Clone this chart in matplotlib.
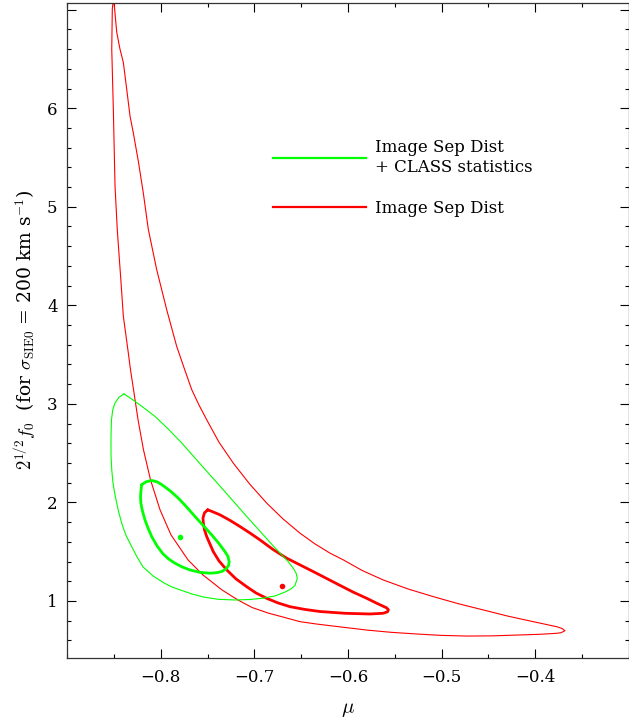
import matplotlib
matplotlib.use("Agg")
import matplotlib.pyplot as plt
from matplotlib.ticker import MultipleLocator

plt.rcParams["font.family"] = "DejaVu Serif"
plt.rcParams["mathtext.fontset"] = "cm"

# outer (thin) red contour: image separation distribution alone
red_outer_mu = [-0.8506, -0.8501, -0.8472, -0.8437, -0.8401, -0.8365, -0.8330, -0.8295,
                -0.8239, -0.8188, -0.8134, -0.8045, -0.7938, -0.7831, -0.7753, -0.7670,
                -0.7592, -0.7510, -0.7379, -0.7226, -0.7053, -0.6869, -0.6695, -0.6513,
                -0.6353, -0.6192, -0.6050, -0.5850, -0.5623, -0.5359, -0.5088, -0.4824,
                -0.4554, -0.4290, -0.4020, -0.3770, -0.3713, -0.3681,
                -0.3724, -0.3770, -0.3948, -0.4197, -0.4461, -0.4731, -0.5006, -0.5266,
                -0.5540, -0.5800, -0.6075, -0.6335, -0.6513, -0.6695, -0.6855, -0.7026,
                -0.7176, -0.7347, -0.7550, -0.7710, -0.7892, -0.8009, -0.8111, -0.8186,
                -0.8244, -0.8292, -0.8325, -0.8348, -0.8401, -0.8428, -0.8451, -0.8466,
                -0.8490, -0.8508, -0.8525, -0.8519, -0.8506]
red_outer_f = [7.128, 7.080, 6.772, 6.600, 6.464, 6.193, 5.922, 5.753,
               5.451, 5.143, 4.770, 4.364, 3.957, 3.584, 3.368, 3.144,
               2.987, 2.839, 2.611, 2.399, 2.189, 1.993, 1.833, 1.688,
               1.579, 1.485, 1.417, 1.310, 1.213, 1.122, 1.044, 0.973,
               0.909, 0.846, 0.790, 0.739, 0.721, 0.698,
               0.678, 0.672, 0.662, 0.654, 0.646, 0.644, 0.651, 0.665,
               0.682, 0.705, 0.736, 0.766, 0.790, 0.837, 0.878, 0.934,
               1.010, 1.112, 1.264, 1.417, 1.671, 1.925, 2.230, 2.535,
               2.839, 3.144, 3.348, 3.517, 3.889, 4.262, 4.567, 4.770,
               5.210, 5.990, 6.600, 7.006, 7.128]

# inner (thick) red contour
red_inner_mu = [-0.7499, -0.7534, -0.7550, -0.7546, -0.7534, -0.7510, -0.7440, -0.7379,
                -0.7296, -0.7197, -0.7083, -0.6983, -0.6869, -0.6748, -0.6620, -0.6460,
                -0.6299, -0.6032, -0.5765, -0.5626, -0.5578, -0.5568, -0.5589, -0.5693,
                -0.5800, -0.5947, -0.6085, -0.6230, -0.6371, -0.6513, -0.6655, -0.6802,
                -0.6941, -0.7047, -0.7154, -0.7261, -0.7368, -0.7443, -0.7499]
red_inner_f = [1.925, 1.894, 1.843, 1.790, 1.722, 1.653, 1.501, 1.407,
               1.315, 1.224, 1.145, 1.081, 1.027, 0.980, 0.942, 0.914,
               0.893, 0.875, 0.868, 0.875, 0.890, 0.911, 0.931, 0.977,
               1.027, 1.091, 1.158, 1.229, 1.298, 1.366, 1.434, 1.523,
               1.620, 1.689, 1.755, 1.818, 1.874, 1.904, 1.925]

# outer (thin) green contour: with CLASS statistics
green_outer_mu = [-0.8394, -0.8447, -0.8490, -0.8514, -0.8528, -0.8533, -0.8533, -0.8525,
                  -0.8512, -0.8490, -0.8458, -0.8419, -0.8373, -0.8312, -0.8255, -0.8191,
                  -0.8084, -0.7967, -0.7881, -0.7777, -0.7667, -0.7550, -0.7389, -0.7208,
                  -0.7047, -0.6922, -0.6780, -0.6673, -0.6609, -0.6566, -0.6542, -0.6556,
                  -0.6585, -0.6641, -0.6780, -0.6922, -0.7069, -0.7208, -0.7347, -0.7493,
                  -0.7635, -0.7777, -0.7924, -0.8063, -0.8170, -0.8276, -0.8341, -0.8394]
green_outer_f = [3.101, 3.068, 3.009, 2.941, 2.839, 2.667, 2.484, 2.331,
                 2.199, 2.077, 1.930, 1.790, 1.666, 1.552, 1.447, 1.346,
                 1.254, 1.183, 1.142, 1.107, 1.071, 1.041, 1.017, 1.010,
                 1.015, 1.027, 1.051, 1.091, 1.122, 1.158, 1.231, 1.285,
                 1.332, 1.401, 1.539, 1.688, 1.843, 1.993, 2.143, 2.298,
                 2.450, 2.603, 2.748, 2.873, 2.951, 3.025, 3.068, 3.101]

# inner (thick) green contour
green_inner_mu = [-0.8205, -0.8159, -0.8098, -0.8041, -0.7988, -0.7902, -0.7814, -0.7726,
                  -0.7635, -0.7544, -0.7457, -0.7384, -0.7315, -0.7283, -0.7270, -0.7276,
                  -0.7304, -0.7347, -0.7400, -0.7475, -0.7582, -0.7689, -0.7774, -0.7849,
                  -0.7918, -0.7977, -0.8041, -0.8098, -0.8138, -0.8170, -0.8196, -0.8214,
                  -0.8217, -0.8214, -0.8205]
green_inner_f = [2.179, 2.209, 2.223, 2.209, 2.179, 2.118, 2.044, 1.955,
                 1.857, 1.762, 1.671, 1.589, 1.501, 1.452, 1.399, 1.361,
                 1.325, 1.300, 1.287, 1.282, 1.290, 1.315, 1.346, 1.383,
                 1.427, 1.478, 1.559, 1.653, 1.742, 1.823, 1.910, 1.993,
                 2.057, 2.108, 2.179]

# best-fit points
best_mu = [-0.78, -0.67]
best_f = [1.65, 1.15]

x_ticks = [-0.8, -0.7, -0.6, -0.5, -0.4]
x_labels = ["\u22120.8", "\u22120.7", "\u22120.6", "\u22120.5", "\u22120.4"]
y_ticks = [1, 2, 3, 4, 5, 6, 7]
y_labels = ["1", "2", "3", "4", "5", "6", ""]

RED = "#ff0000"
GREEN = "#00ff00"

fig = plt.figure(figsize=(6.29, 7.23), dpi=100)
ax = fig.add_axes([0.107, 0.0903, 0.8925, 0.906])

line_kw = dict(solid_joinstyle="round", solid_capstyle="round")
ax.plot(red_outer_mu, red_outer_f, color=RED, lw=0.8, **line_kw)
ax.plot(red_inner_mu, red_inner_f, color=RED, lw=2.0, **line_kw)
ax.plot(green_outer_mu, green_outer_f, color=GREEN, lw=0.8, **line_kw)
ax.plot(green_inner_mu, green_inner_f, color=GREEN, lw=2.0, **line_kw)
ax.plot(best_mu[0], best_f[0], "o", color=GREEN, ms=4, mec="none")
ax.plot(best_mu[1], best_f[1], "o", color=RED, ms=4, mec="none")

# legend keys
h1, = ax.plot([], [], color=GREEN, lw=1.6)
h2, = ax.plot([], [], color=RED, lw=1.6)
ax.legend([h1, h2], ["Image Sep Dist\n+ CLASS statistics", "Image Sep Dist"],
          loc="upper left", bbox_to_anchor=(0.366, 0.792),
          frameon=False, fontsize=12, handlelength=5.6, handletextpad=0.55,
          labelspacing=1.45, borderpad=0, borderaxespad=0)

ax.set_xlim(-0.9, -0.3)
ax.set_ylim(0.3 * 2 ** 0.5, 5 * 2 ** 0.5)
ax.set_xticks(x_ticks, x_labels)
ax.set_yticks(y_ticks, y_labels)
ax.xaxis.set_minor_locator(MultipleLocator(0.05))
ax.yaxis.set_minor_locator(MultipleLocator(0.2))
ax.tick_params(which="both", direction="in", top=True, right=True, labelsize=12, width=0.8)
ax.tick_params(which="major", length=6.5)
ax.tick_params(axis="x", which="major", pad=8)
ax.tick_params(axis="y", which="major", pad=7)
ax.tick_params(which="minor", length=3)
for s in ax.spines.values():
    s.set_linewidth(0.9)
    s.set_color("#333333")

ax.set_xlabel(r"$\mu$", fontsize=15, labelpad=10)
ax.set_ylabel(r"$2^{1/2}f_0$  (for $\sigma_{\rm SIE0}$ = 200 km s$^{-1}$)", fontsize=13.5, labelpad=6)

fig.savefig("out.png", dpi=100)
